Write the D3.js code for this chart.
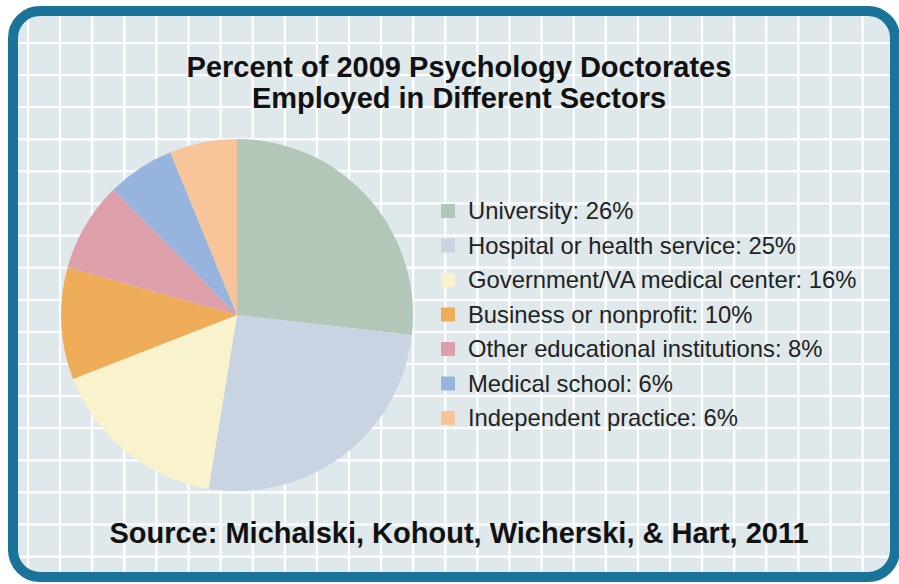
<!DOCTYPE html>
<html>
<head>
<meta charset="utf-8">
<script src="https://cdn.jsdelivr.net/npm/d3@7"></script>
<style>
  body { margin: 0; background: #fff; }
  svg { display: block; font-family: "Liberation Sans", Arial, sans-serif; }
</style>
</head>
<body>
<div id="chart"></div>
<script>
// Data
const sectors = ["University", "Hospital or health service", "Government/VA medical center",
  "Business or nonprofit", "Other educational institutions", "Medical school", "Independent practice"];
const percents = [26, 25, 16, 10, 8, 6, 6];
const colors = ["#b3c7b9", "#c9d4e3", "#f9f3cd", "#f0ad59", "#dda0ab", "#97b4de", "#f8c59a"];
const titleLines = ["Percent of 2009 Psychology Doctorates", "Employed in Different Sectors"];
const sourceText = "Source: Michalski, Kohout, Wicherski, & Hart, 2011";

const width = 899, height = 584;

const svg = d3.select("#chart")
    .append("svg")
    .attr("width", width)
    .attr("height", height);

// Panel background
const panel = { x: 13, y: 11, w: 882, h: 566 };
svg.append("rect")
    .attr("x", panel.x).attr("y", panel.y)
    .attr("width", panel.w).attr("height", panel.h)
    .attr("rx", 27)
    .attr("fill", "#dfe8eb");

// Grid
svg.append("clipPath").attr("id", "panel-clip")
    .append("rect")
    .attr("x", panel.x).attr("y", panel.y)
    .attr("width", panel.w).attr("height", panel.h)
    .attr("rx", 27);

const gridStep = 32.1;
const grid = svg.append("g").attr("clip-path", "url(#panel-clip)")
    .attr("stroke", "#ffffff").attr("stroke-width", 2.2);
d3.range(28, width, gridStep).forEach(x => {
    grid.append("line").attr("x1", x).attr("x2", x).attr("y1", 0).attr("y2", height);
});
d3.range(43 - gridStep, height, gridStep).forEach(y => {
    grid.append("line").attr("x1", 0).attr("x2", width).attr("y1", y).attr("y2", y);
});

// Border
svg.append("rect")
    .attr("x", panel.x).attr("y", panel.y)
    .attr("width", panel.w).attr("height", panel.h)
    .attr("rx", 27)
    .attr("fill", "none")
    .attr("stroke", "#1a7399")
    .attr("stroke-width", 10);

// Title
svg.append("text")
    .attr("text-anchor", "middle")
    .attr("x", 459)
    .attr("font-size", 29)
    .attr("font-weight", "bold")
    .attr("fill", "#111")
    .selectAll("tspan")
    .data(titleLines)
    .join("tspan")
    .attr("x", 459)
    .attr("y", (d, i) => 77 + i * 31)
    .text(d => d);

// Pie
const pie = d3.pie().sort(null).value(d => d);
const arc = d3.arc().innerRadius(0).outerRadius(176);
const pieG = svg.append("g").attr("transform", "translate(237,315)");
pieG.selectAll("path")
    .data(pie(percents))
    .join("path")
    .attr("d", arc)
    .attr("fill", (d, i) => colors[i]);

// Legend
const legendY = d3.scalePoint().domain(sectors).range([211, 418]);
const legend = svg.append("g");
const items = legend.selectAll("g")
    .data(sectors)
    .join("g")
    .attr("transform", d => `translate(441,${legendY(d)})`);
items.append("rect")
    .attr("x", 0).attr("y", -7)
    .attr("width", 14).attr("height", 14)
    .attr("fill", (d, i) => colors[i]);
items.append("text")
    .attr("x", 27)
    .attr("y", 8)
    .attr("font-size", 23.8)
    .attr("fill", "#222")
    .text((d, i) => `${d}: ${percents[i]}%`);

// Source
svg.append("text")
    .attr("text-anchor", "middle")
    .attr("x", 459)
    .attr("y", 543)
    .attr("font-size", 29)
    .attr("font-weight", "bold")
    .attr("fill", "#111")
    .text(sourceText);
</script>
</body>
</html>
